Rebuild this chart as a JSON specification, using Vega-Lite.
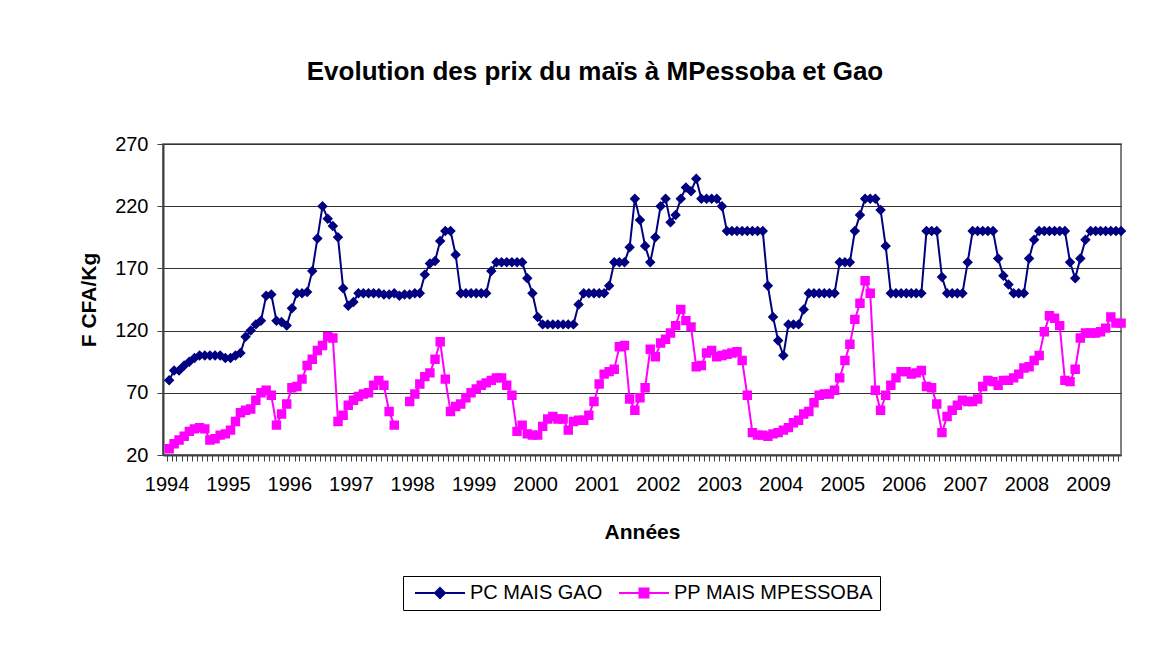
{
"$schema": "https://vega.github.io/schema/vega-lite/v6.json",
"width": 958, "height": 311,
"autosize": {"type": "none"},
"padding": {"left": 163, "top": 144, "right": 41, "bottom": 197},
"background": "white",
"title": {"text": "Evolution des prix du maïs à MPessoba et Gao", "fontSize": 26, "font": "Liberation Sans", "fontWeight": "bold", "color": "#000", "anchor": "middle", "frame": "group", "dx": -47, "offset": 49},
"data": {"values": [
{"d":"1994-01","g":80,"m":25},{"d":"1994-02","g":88,"m":29},{"d":"1994-03","g":88,"m":32},{"d":"1994-04","g":92,"m":35},{"d":"1994-05","g":95,"m":39},{"d":"1994-06","g":98,"m":41},{"d":"1994-07","g":100,"m":42},{"d":"1994-08","g":100,"m":41},{"d":"1994-09","g":100,"m":32},{"d":"1994-10","g":100,"m":33},{"d":"1994-11","g":100,"m":36},{"d":"1994-12","g":98,"m":37},
{"d":"1995-01","g":98,"m":40},{"d":"1995-02","g":100,"m":47},{"d":"1995-03","g":102,"m":54},{"d":"1995-04","g":115,"m":56},{"d":"1995-05","g":120,"m":57},{"d":"1995-06","g":125,"m":64},{"d":"1995-07","g":128,"m":70},{"d":"1995-08","g":148,"m":72},{"d":"1995-09","g":149,"m":68},{"d":"1995-10","g":128,"m":44},{"d":"1995-11","g":127,"m":53},{"d":"1995-12","g":124,"m":61},
{"d":"1996-01","g":138,"m":74},{"d":"1996-02","g":150,"m":75},{"d":"1996-03","g":150,"m":81},{"d":"1996-04","g":151,"m":92},{"d":"1996-05","g":168,"m":97},{"d":"1996-06","g":194,"m":104},{"d":"1996-07","g":220,"m":108},{"d":"1996-08","g":210,"m":115},{"d":"1996-09","g":204,"m":114},{"d":"1996-10","g":195,"m":47},{"d":"1996-11","g":154,"m":52},{"d":"1996-12","g":140,"m":60},
{"d":"1997-01","g":143,"m":64},{"d":"1997-02","g":150,"m":67},{"d":"1997-03","g":150,"m":69},{"d":"1997-04","g":150,"m":70},{"d":"1997-05","g":150,"m":76},{"d":"1997-06","g":150,"m":80},{"d":"1997-07","g":149,"m":76},{"d":"1997-08","g":149,"m":55},{"d":"1997-09","g":150,"m":44},{"d":"1997-10","g":148,"m":null},{"d":"1997-11","g":149,"m":null},{"d":"1997-12","g":149,"m":63},
{"d":"1998-01","g":150,"m":69},{"d":"1998-02","g":150,"m":77},{"d":"1998-03","g":165,"m":83},{"d":"1998-04","g":174,"m":86},{"d":"1998-05","g":176,"m":97},{"d":"1998-06","g":192,"m":111},{"d":"1998-07","g":200,"m":81},{"d":"1998-08","g":200,"m":55},{"d":"1998-09","g":181,"m":59},{"d":"1998-10","g":150,"m":61},{"d":"1998-11","g":150,"m":66},{"d":"1998-12","g":150,"m":70},
{"d":"1999-01","g":150,"m":73},{"d":"1999-02","g":150,"m":76},{"d":"1999-03","g":150,"m":78},{"d":"1999-04","g":168,"m":80},{"d":"1999-05","g":175,"m":82},{"d":"1999-06","g":175,"m":82},{"d":"1999-07","g":175,"m":76},{"d":"1999-08","g":175,"m":68},{"d":"1999-09","g":175,"m":39},{"d":"1999-10","g":175,"m":44},{"d":"1999-11","g":162,"m":37},{"d":"1999-12","g":150,"m":36},
{"d":"2000-01","g":131,"m":36},{"d":"2000-02","g":125,"m":43},{"d":"2000-03","g":125,"m":49},{"d":"2000-04","g":125,"m":51},{"d":"2000-05","g":125,"m":49},{"d":"2000-06","g":125,"m":49},{"d":"2000-07","g":125,"m":40},{"d":"2000-08","g":125,"m":47},{"d":"2000-09","g":141,"m":48},{"d":"2000-10","g":150,"m":48},{"d":"2000-11","g":150,"m":52},{"d":"2000-12","g":150,"m":63},
{"d":"2001-01","g":150,"m":77},{"d":"2001-02","g":150,"m":85},{"d":"2001-03","g":156,"m":87},{"d":"2001-04","g":175,"m":89},{"d":"2001-05","g":175,"m":107},{"d":"2001-06","g":175,"m":108},{"d":"2001-07","g":187,"m":65},{"d":"2001-08","g":226,"m":56},{"d":"2001-09","g":209,"m":66},{"d":"2001-10","g":188,"m":74},{"d":"2001-11","g":175,"m":105},{"d":"2001-12","g":195,"m":99},
{"d":"2002-01","g":220,"m":110},{"d":"2002-02","g":226,"m":113},{"d":"2002-03","g":207,"m":118},{"d":"2002-04","g":213,"m":124},{"d":"2002-05","g":226,"m":137},{"d":"2002-06","g":235,"m":128},{"d":"2002-07","g":232,"m":123},{"d":"2002-08","g":242,"m":91},{"d":"2002-09","g":226,"m":92},{"d":"2002-10","g":226,"m":102},{"d":"2002-11","g":226,"m":104},{"d":"2002-12","g":226,"m":99},
{"d":"2003-01","g":220,"m":100},{"d":"2003-02","g":200,"m":101},{"d":"2003-03","g":200,"m":102},{"d":"2003-04","g":200,"m":103},{"d":"2003-05","g":200,"m":96},{"d":"2003-06","g":200,"m":68},{"d":"2003-07","g":200,"m":38},{"d":"2003-08","g":200,"m":36},{"d":"2003-09","g":200,"m":36},{"d":"2003-10","g":156,"m":35},{"d":"2003-11","g":131,"m":37},{"d":"2003-12","g":112,"m":38},
{"d":"2004-01","g":100,"m":40},{"d":"2004-02","g":125,"m":42},{"d":"2004-03","g":125,"m":46},{"d":"2004-04","g":125,"m":48},{"d":"2004-05","g":137,"m":53},{"d":"2004-06","g":150,"m":55},{"d":"2004-07","g":150,"m":62},{"d":"2004-08","g":150,"m":68},{"d":"2004-09","g":150,"m":69},{"d":"2004-10","g":150,"m":69},{"d":"2004-11","g":150,"m":72},{"d":"2004-12","g":175,"m":82},
{"d":"2005-01","g":175,"m":96},{"d":"2005-02","g":175,"m":109},{"d":"2005-03","g":200,"m":129},{"d":"2005-04","g":213,"m":142},{"d":"2005-05","g":226,"m":160},{"d":"2005-06","g":226,"m":150},{"d":"2005-07","g":226,"m":72},{"d":"2005-08","g":217,"m":56},{"d":"2005-09","g":188,"m":68},{"d":"2005-10","g":150,"m":76},{"d":"2005-11","g":150,"m":82},{"d":"2005-12","g":150,"m":87},
{"d":"2006-01","g":150,"m":87},{"d":"2006-02","g":150,"m":85},{"d":"2006-03","g":150,"m":86},{"d":"2006-04","g":150,"m":88},{"d":"2006-05","g":200,"m":75},{"d":"2006-06","g":200,"m":74},{"d":"2006-07","g":200,"m":61},{"d":"2006-08","g":163,"m":38},{"d":"2006-09","g":150,"m":51},{"d":"2006-10","g":150,"m":56},{"d":"2006-11","g":150,"m":60},{"d":"2006-12","g":150,"m":64},
{"d":"2007-01","g":175,"m":63},{"d":"2007-02","g":200,"m":63},{"d":"2007-03","g":200,"m":65},{"d":"2007-04","g":200,"m":75},{"d":"2007-05","g":200,"m":80},{"d":"2007-06","g":200,"m":79},{"d":"2007-07","g":178,"m":76},{"d":"2007-08","g":164,"m":80},{"d":"2007-09","g":157,"m":80},{"d":"2007-10","g":150,"m":82},{"d":"2007-11","g":150,"m":85},{"d":"2007-12","g":150,"m":90},
{"d":"2008-01","g":178,"m":91},{"d":"2008-02","g":193,"m":96},{"d":"2008-03","g":200,"m":100},{"d":"2008-04","g":200,"m":119},{"d":"2008-05","g":200,"m":132},{"d":"2008-06","g":200,"m":130},{"d":"2008-07","g":200,"m":124},{"d":"2008-08","g":200,"m":80},{"d":"2008-09","g":175,"m":79},{"d":"2008-10","g":162,"m":89},{"d":"2008-11","g":178,"m":114},{"d":"2008-12","g":193,"m":118},
{"d":"2009-01","g":200,"m":118},{"d":"2009-02","g":200,"m":118},{"d":"2009-03","g":200,"m":119},{"d":"2009-04","g":200,"m":122},{"d":"2009-05","g":200,"m":131},{"d":"2009-06","g":200,"m":126},{"d":"2009-07","g":200,"m":126}
]},
"transform": [{"fold": ["g", "m"], "as": ["s", "v"]}],
"encoding": {
  "x": {"field": "d", "type": "temporal", "timeUnit": "utcyearmonth", "bandPosition": 0.5,
    "scale": {"type": "utc", "nice": false, "domain": [{"year": 1993, "month": 12, "date": 11, "utc": true}, {"year": 2009, "month": 7, "date": 16, "utc": true}]},
    "axis": {"title": "Années", "titleFontSize": 21, "titleFont": "Liberation Sans", "titleFontWeight": "bold", "titleColor": "#000", "titlePadding": 27,
      "tickCount": {"interval": "month", "step": 1},
      "labelExpr": "utcFormat(datum.value, '%m') === '01' ? utcFormat(datum.value, '%Y') : ''",
      "labelOverlap": false, "labelFlush": false, "labelFontSize": 20, "labelFont": "Liberation Sans", "labelColor": "#000", "labelPadding": 13,
      "tickSize": 6, "tickColor": "#404040", "domainColor": "#404040", "domainWidth": 2, "grid": false}},
  "y": {"field": "v", "type": "quantitative",
    "scale": {"domain": [20, 270], "nice": false, "zero": false},
    "axis": {"title": "F CFA/Kg", "titleFontSize": 21, "titleFont": "Liberation Sans", "titleFontWeight": "bold", "titleColor": "#000", "titlePadding": 15,
      "values": [20, 70, 120, 170, 220, 270], "grid": true, "gridColor": "#333333", "gridWidth": 1,
      "labelFontSize": 20, "labelFont": "Liberation Sans", "labelColor": "#000", "labelPadding": 9,
      "tickSize": 6, "tickColor": "#404040", "domainColor": "#404040", "domainWidth": 2}},
  "color": {"field": "s", "type": "nominal",
    "scale": {"domain": ["g", "m"], "range": ["#000080", "#FF00FF"]},
    "legend": {"title": null, "orient": "none", "legendX": 240, "legendY": 432, "direction": "horizontal",
      "strokeColor": "#000", "padding": 7, "labelFontSize": 20, "labelFont": "Liberation Sans", "labelColor": "#000", "labelLimit": 400,
      "labelExpr": "datum.value === 'g' ? 'PC MAIS GAO' : 'PP MAIS MPESSOBA'",
      "symbolSize": 100, "symbolStrokeWidth": 2, "symbolOpacity": 1, "symbolOffset": 20, "labelOffset": 20, "columnPadding": 11}}
},
"layer": [
  {"mark": {"type": "line", "strokeWidth": 2}},
  {"mark": {"type": "point", "filled": true, "opacity": 1, "size": 110},
   "encoding": {"shape": {"field": "s", "type": "nominal", "scale": {"domain": ["g", "m"], "range": ["M-5,0L5,0M0,-1L1,0L0,1L-1,0Z", "M-5,0L5,0M-0.9,-0.9L0.9,-0.9L0.9,0.9L-0.9,0.9Z"]}}}}
],
"config": {"view": {"stroke": "#808080", "strokeWidth": 2}, "font": "Liberation Sans"}
}
